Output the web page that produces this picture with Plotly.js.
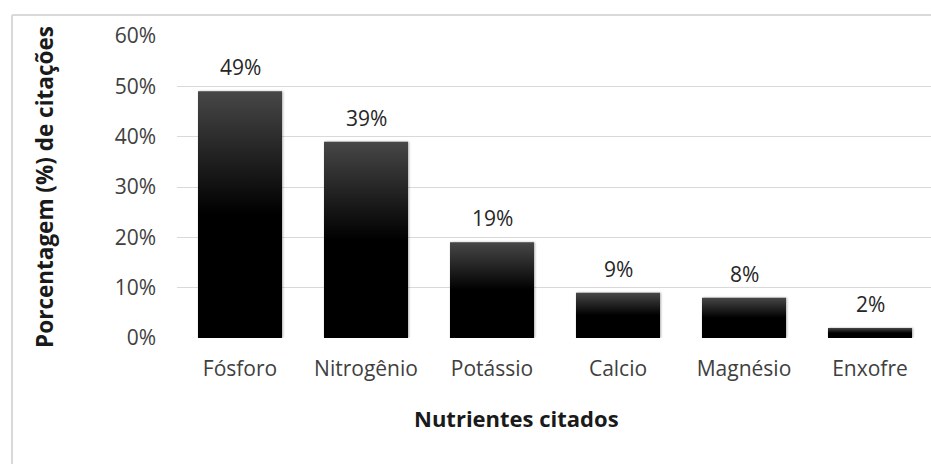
<!DOCTYPE html>
<html>
<head>
<meta charset="utf-8">
<script src="https://cdn.plot.ly/plotly-3.0.1.min.js"></script>
<style>
  html, body { margin: 0; padding: 0; background: #fff; }
  #chart { width: 931px; height: 464px; }
</style>
</head>
<body>
<div id="chart"></div>
<script>
// Nutrients cited and their share of citations (%)
const nutrients = ['Fósforo', 'Nitrogênio', 'Potássio', 'Calcio', 'Magnésio', 'Enxofre'];
const sharePct = [49, 39, 19, 9, 8, 2];
const yTickVals = [0, 10, 20, 30, 40, 50, 60];
const yTickText = ['0%', '10%', '20%', '30%', '40%', '50%', '60%'];
const xTitle = 'Nutrientes citados';
const yTitle = 'Porcentagem (%) de citações';

const W = 931, H = 464;
const M = { l: 177, r: 0, t: 36, b: 126 };
const plotW = W - M.l - M.r, plotH = H - M.t - M.b;
// pixel -> paper coordinate helpers for the frame and the category title
const px = x => (x - M.l) / plotW;
const py = y => (H - M.b - y) / plotH;

const FONT = '"Open Sans", "Noto Sans", sans-serif';

const bars = {
  type: 'bar',
  x: nutrients,
  y: sharePct,
  marker: { color: '#000000', line: { width: 0 } },
  width: 0.667,
  hoverinfo: 'none'
};

const labels = nutrients.map((n, i) => ({
  x: n, y: sharePct[i], xref: 'x', yref: 'y',
  text: sharePct[i] + '%',
  showarrow: false, yanchor: 'bottom', yshift: 8,
  font: { family: FONT, size: 21, color: '#262626' }
}));

// category axis title, centred on the chart frame rather than the plot area
labels.push({
  xref: 'paper', yref: 'paper', x: px(516), y: py(418),
  xanchor: 'center', yanchor: 'middle', showarrow: false,
  text: '<b>' + xTitle + '</b>',
  font: { family: FONT, size: 22, color: '#1a1a1a' }
});

const layout = {
  width: W, height: H,
  margin: M,
  paper_bgcolor: '#ffffff', plot_bgcolor: '#ffffff',
  showlegend: false,
  xaxis: {
    type: 'category',
    range: [-0.5, 5.5 - 2 / 126],
    showgrid: false, zeroline: false, showline: false,
    ticks: '', ticklabelstandoff: 16,
    tickfont: { family: FONT, size: 21, color: '#404040' },
    fixedrange: true
  },
  yaxis: {
    range: [0, 60],
    tickvals: yTickVals, ticktext: yTickText,
    showgrid: true, gridcolor: '#d9d9d9', gridwidth: 1,
    zeroline: false, showline: false, ticks: '', ticklabelstandoff: 20,
    tickfont: { family: FONT, size: 21, color: '#404040' },
    title: { text: '<b>' + yTitle + '</b>', standoff: 54,
             font: { family: FONT, size: 22.5, color: '#1a1a1a' } },
    fixedrange: true
  },
  annotations: labels,
  shapes: [
    { type: 'line', xref: 'paper', yref: 'paper', layer: 'below',
      x0: px(12), x1: px(W + 10), y0: py(15), y1: py(15),
      line: { color: '#d9d9d9', width: 2 } },
    { type: 'line', xref: 'paper', yref: 'paper', layer: 'below',
      x0: px(12), x1: px(12), y0: py(15), y1: py(H + 10),
      line: { color: '#d9d9d9', width: 2 } }
  ]
};

Plotly.newPlot('chart', [bars], layout, { displayModeBar: false, staticPlot: true })
  .then(gd => {
    // vertical gray-to-black gradient fill and a soft shadow on each bar
    const svg = gd.querySelector('.main-svg');
    const NS = 'http://www.w3.org/2000/svg';
    let defs = svg.querySelector('defs');
    if (!defs) { defs = document.createElementNS(NS, 'defs'); svg.prepend(defs); }
    const grad = document.createElementNS(NS, 'linearGradient');
    grad.setAttribute('id', 'barShade');
    grad.setAttribute('x1', '0'); grad.setAttribute('y1', '0');
    grad.setAttribute('x2', '0'); grad.setAttribute('y2', '1');
    [['0', '#474747'], ['0.5', '#000000'], ['1', '#000000']].forEach(([o, c]) => {
      const s = document.createElementNS(NS, 'stop');
      s.setAttribute('offset', o); s.setAttribute('stop-color', c);
      grad.appendChild(s);
    });
    defs.appendChild(grad);
    const filt = document.createElementNS(NS, 'filter');
    filt.setAttribute('id', 'barShadow');
    filt.setAttribute('color-interpolation-filters', 'sRGB');
    filt.setAttribute('x', '-10%'); filt.setAttribute('y', '-10%');
    filt.setAttribute('width', '120%'); filt.setAttribute('height', '120%');
    const ds = document.createElementNS(NS, 'feDropShadow');
    ds.setAttribute('dx', '1'); ds.setAttribute('dy', '0');
    ds.setAttribute('stdDeviation', '1.3');
    ds.setAttribute('flood-color', '#000'); ds.setAttribute('flood-opacity', '0.3');
    filt.appendChild(ds);
    defs.appendChild(filt);
    gd.querySelectorAll('.bars .point path').forEach(p => {
      p.style.fill = 'url(#barShade)';
      p.setAttribute('filter', 'url(#barShadow)');
    });
  });
</script>
</body>
</html>
